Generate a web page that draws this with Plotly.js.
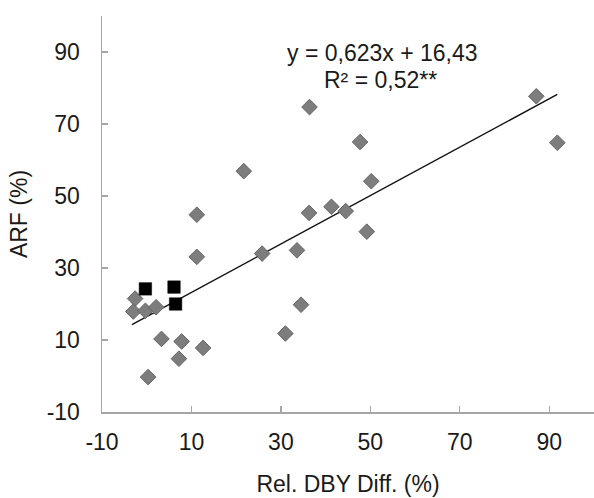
<!DOCTYPE html>
<html>
<head>
<meta charset="utf-8">
<script src="https://cdn.plot.ly/plotly-3.0.1.min.js"></script>
<style>html,body{margin:0;padding:0;background:#fff;}#chart{width:594px;height:498px;}</style>
</head>
<body>
<div id="chart"></div>
<script>
// Gray diamonds: Rel. DBY Diff. (%) vs ARF (%)
const grayX = [-2.6, -3.0, -0.3, 2.1, 3.3, 7.8, 12.6, 7.2, 0.3, 11.2, 11.2, 21.7, 25.8, 31.0, 33.6, 34.5, 36.3, 36.4, 41.3, 44.5, 47.7, 49.2, 50.2, 87.1, 91.8];
const grayY = [21.5, 17.9, 18.1, 19.1, 10.3, 9.6, 7.8, 4.8, -0.3, 33.1, 44.8, 56.9, 34.0, 11.8, 34.9, 19.8, 45.3, 74.7, 47.0, 45.8, 65.0, 40.1, 54.1, 77.7, 64.8];
// Black squares
const blackX = [-0.3, 6.1, 6.45];
const blackY = [24.2, 24.7, 20.0];
// Trend line endpoints (as drawn)
const trendX = [-3.3, 91.8];
const trendY = [14.3, 78.2];
// Tick labels
const xTicks = [-10, 10, 30, 50, 70, 90];
const yTicks = [-10, 10, 30, 50, 70, 90];
const eqText = "y = 0,623x + 16,43";
const r2Text = "R² = 0,52**";

const FONT = "Liberation Sans, Arial, sans-serif";
const TXT = "#1a1a1a";

const traces = [
  {x: trendX, y: trendY, mode: "lines", type: "scatter",
   line: {color: "#111", width: 1.4}, hoverinfo: "skip"},
  {x: grayX, y: grayY, mode: "markers", type: "scatter",
   marker: {symbol: "diamond", size: 12, color: "#7d7d7d", line: {color: "#666", width: 1}}},
  {x: blackX, y: blackY, mode: "markers", type: "scatter",
   marker: {symbol: "square", size: 12.5, color: "#000", line: {color: "#000", width: 0.5}}}
];

const axisCommon = {
  showgrid: false, zeroline: false, showline: true, linecolor: "#a6a6a6", linewidth: 1.5,
  ticks: "inside", ticklen: 6, tickwidth: 1.2, tickcolor: "#a6a6a6",
  tickfont: {family: FONT, size: 23, color: TXT}, tickmode: "array"
};

const layout = {
  width: 594, height: 498,
  margin: {l: 101.5, r: 0, t: 16, b: 86},
  paper_bgcolor: "#fff", plot_bgcolor: "#fff",
  showlegend: false,
  xaxis: Object.assign({}, axisCommon, {
    range: [-10, 100], tickvals: xTicks, ticktext: xTicks.map(v => v < 0 ? "-" + Math.abs(v) : String(v)),
    ticklabelstandoff: 9,
    title: {text: "Rel. DBY Diff. (%)", font: {family: FONT, size: 23, color: TXT}, standoff: 22}
  }),
  yaxis: Object.assign({}, axisCommon, {
    range: [-10, 100], tickvals: yTicks, ticktext: yTicks.map(v => v < 0 ? "-" + Math.abs(v) : String(v)),
    ticklabelstandoff: 16,
    title: {text: "ARF (%)", font: {family: FONT, size: 23, color: TXT}, standoff: 12}
  }),
  annotations: [
    {xref: "paper", yref: "paper", x: 0.5696, y: 0.9066, xanchor: "center", yanchor: "middle",
     text: eqText, showarrow: false, font: {family: FONT, size: 23, color: TXT}},
    {xref: "paper", yref: "paper", x: 0.566, y: 0.838, xanchor: "center", yanchor: "middle",
     text: r2Text, showarrow: false, font: {family: FONT, size: 23, color: TXT}}
  ]
};

Plotly.newPlot("chart", traces, layout, {staticPlot: true, displayModeBar: false});
</script>
</body>
</html>
